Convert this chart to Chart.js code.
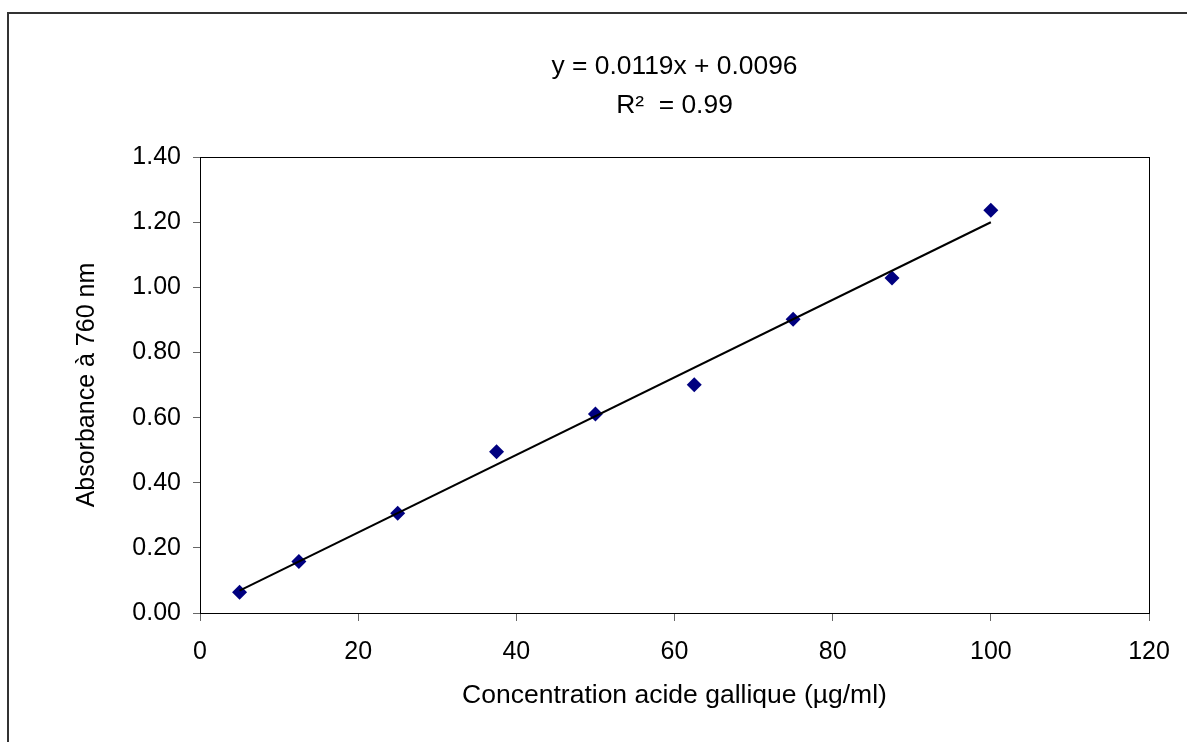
<!DOCTYPE html>
<html>
<head>
<meta charset="utf-8">
<script src="https://cdn.jsdelivr.net/npm/chart.js@4"></script>
<style>
  html, body { margin: 0; padding: 0; background: #fff; }
  #wrap { width: 1187px; height: 742px; position: relative; }
</style>
</head>
<body>
<div id="wrap"><canvas id="c" width="1187" height="742"></canvas></div>
<script>
// ---- data ----
const concentrations = [5, 12.5, 25, 37.5, 50, 62.5, 75, 87.5, 100];
const absorbances   = [0.064, 0.158, 0.306, 0.495, 0.611, 0.701, 0.902, 1.029, 1.237];
const trendX = [5, 100];
const trendY = [0.069, 1.200];
const equationLines = ['y = 0.0119x + 0.0096', 'R\u00B2  = 0.99'];
const xTitle = 'Concentration acide gallique (\u00B5g/ml)';
const yTitle = 'Absorbance \u00E0 760 nm';
const xMin = 0, xMax = 120, xStep = 20;
const yMin = 0, yMax = 1.4, yStep = 0.2;

const FONT = "'Liberation Sans', Arial, sans-serif";

const framePlugin = {
  id: 'frame',
  beforeDraw(chart) {
    const ctx = chart.ctx;
    ctx.save();
    ctx.fillStyle = '#fff';
    ctx.fillRect(0, 0, chart.width, chart.height);
    ctx.strokeStyle = '#333';
    ctx.lineWidth = 2;
    ctx.beginPath();
    ctx.moveTo(8, chart.height);
    ctx.lineTo(8, 13);
    ctx.lineTo(chart.width, 13);
    ctx.stroke();
    ctx.restore();
  },
  afterDatasetsDraw(chart) {
    const a = chart.chartArea;
    const ctx = chart.ctx;
    ctx.save();
    ctx.strokeStyle = '#000';
    ctx.lineWidth = 1;
    ctx.strokeRect(Math.round(a.left) + 0.5, Math.round(a.top) + 0.5,
                   Math.round(a.right - a.left), Math.round(a.bottom - a.top));
    ctx.restore();
  }
};

const trendData = trendX.map((x, i) => ({ x: x, y: trendY[i] }));
const pointData = concentrations.map((x, i) => ({ x: x, y: absorbances[i] }));

new Chart(document.getElementById('c'), {
  type: 'scatter',
  data: {
    datasets: [
      {
        type: 'line',
        label: 'trend',
        data: trendData,
        borderColor: '#000',
        borderWidth: 2,
        pointRadius: 0,
        fill: false,
        tension: 0
      },
      {
        label: 'Absorbance',
        data: pointData,
        pointStyle: 'rectRot',
        pointRadius: 7.5,
        pointBackgroundColor: '#000080',
        pointBorderColor: '#000080',
        pointBorderWidth: 0,
        showLine: false
      }
    ]
  },
  options: {
    responsive: false,
    animation: false,
    devicePixelRatio: 1,
    layout: { padding: { top: 0, right: 38, bottom: 0, left: 0 } },
    plugins: {
      legend: { display: false },
      tooltip: { enabled: false },
      title: {
        display: true,
        fullSize: false,
        text: equationLines,
        color: '#000',
        font: { family: FONT, size: 26.4, weight: 'normal', lineHeight: 1.48 },
        padding: { top: 47.5, bottom: 31.5 }
      }
    },
    scales: {
      x: {
        type: 'linear',
        min: xMin, max: xMax,
        afterFit(scale) { scale.height = 129; },
        ticks: {
          stepSize: xStep,
          color: '#000',
          padding: 16,
          font: { family: FONT, size: 25 },
          callback: v => String(v)
        },
        grid: { display: true, drawOnChartArea: false, drawTicks: true, tickLength: 8, color: '#666' },
        border: { display: true, color: '#000', width: 1 },
        title: {
          display: true,
          text: xTitle,
          color: '#000',
          font: { family: FONT, size: 26.5 },
          padding: { top: 0, bottom: 30 }
        }
      },
      y: {
        type: 'linear',
        min: yMin, max: yMax,
        afterFit(scale) { scale.width = 200; },
        ticks: {
          stepSize: yStep,
          color: '#000',
          padding: 12,
          font: { family: FONT, size: 25 },
          callback: v => Number(v).toFixed(2)
        },
        grid: { display: true, drawOnChartArea: false, drawTicks: true, tickLength: 7, color: '#666' },
        border: { display: true, color: '#000', width: 1 },
        title: {
          display: true,
          text: yTitle,
          color: '#000',
          font: { family: FONT, size: 25 },
          padding: { top: 72, bottom: 0 }
        }
      }
    }
  },
  plugins: [framePlugin]
});
</script>
</body>
</html>
